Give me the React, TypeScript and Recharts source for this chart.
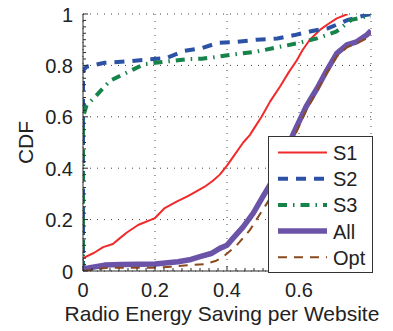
import React from 'react';
import { LineChart, Line, XAxis, YAxis, CartesianGrid, Legend, Label } from 'recharts';

// ---- data ----
const s1X = [0, 0, 0.03, 0.056, 0.083, 0.1, 0.12, 0.153, 0.2, 0.227, 0.26, 0.29, 0.315, 0.338, 0.36, 0.38, 0.4, 0.42, 0.445, 0.464, 0.473, 0.496, 0.52, 0.547, 0.57, 0.594, 0.61, 0.63, 0.658, 0.68, 0.705, 0.735];
const s1Y = [0, 0.05, 0.07, 0.093, 0.105, 0.125, 0.148, 0.179, 0.206, 0.245, 0.27, 0.29, 0.31, 0.328, 0.35, 0.375, 0.41, 0.45, 0.5, 0.53, 0.55, 0.6, 0.66, 0.717, 0.77, 0.82, 0.86, 0.9, 0.938, 0.96, 0.983, 1.0];

const s2X = [0, 0, 0.01, 0.06, 0.135, 0.186, 0.23, 0.28, 0.317, 0.33, 0.375, 0.428, 0.483, 0.54, 0.588, 0.64, 0.68, 0.736, 0.785, 0.8];
const s2Y = [0, 0.78, 0.795, 0.81, 0.817, 0.824, 0.828, 0.856, 0.864, 0.867, 0.888, 0.892, 0.9, 0.905, 0.918, 0.935, 0.944, 0.977, 0.996, 1.0];

const s3X = [0, 0, 0.01, 0.035, 0.075, 0.133, 0.17, 0.245, 0.295, 0.33, 0.355, 0.42, 0.48, 0.535, 0.595, 0.65, 0.703, 0.745, 0.785, 0.8];
const s3Y = [0, 0.6, 0.645, 0.68, 0.74, 0.78, 0.805, 0.817, 0.825, 0.826, 0.83, 0.843, 0.853, 0.869, 0.886, 0.905, 0.931, 0.977, 0.99, 0.99];

const allX = [0, 0, 0.015, 0.06, 0.106, 0.2, 0.264, 0.3, 0.325, 0.356, 0.38, 0.4, 0.417, 0.445, 0.473, 0.5, 0.53, 0.555, 0.583, 0.62, 0.65, 0.677, 0.705, 0.733, 0.76, 0.788, 0.8];
const allY = [0, 0.01, 0.012, 0.023, 0.025, 0.027, 0.036, 0.045, 0.056, 0.068, 0.088, 0.1, 0.128, 0.172, 0.225, 0.29, 0.36, 0.44, 0.53, 0.64, 0.71, 0.78, 0.847, 0.88, 0.892, 0.918, 0.935];

const optX = [0, 0.015, 0.07, 0.2, 0.245, 0.29, 0.34, 0.37, 0.39, 0.427, 0.464, 0.49, 0.514, 0.55, 0.583, 0.62, 0.65, 0.677, 0.705, 0.733, 0.76, 0.788, 0.8];
const optY = [0, 0.003, 0.013, 0.013, 0.017, 0.022, 0.027, 0.04, 0.056, 0.1, 0.16, 0.218, 0.27, 0.38, 0.51, 0.625, 0.7, 0.77, 0.835, 0.87, 0.885, 0.905, 0.925];

const seriesNames = ['S1', 'S2', 'S3', 'All', 'Opt'];
const xMajorTicks = [0, 0.2, 0.4, 0.6, 0.8];
const xTickLabels = ['0', '0.2', '0.4', '0.6', ''];
const yMajorTicks = [0, 0.2, 0.4, 0.6, 0.8, 1];
const yTickLabels = ['0', '0.2', '0.4', '0.6', '0.8', '1'];
const xLabel = 'Radio Energy Saving per Website';
const yLabel = 'CDF';

// ---- styles ----
const seriesColors = ['#f02a2a', '#2c52a6', '#15834a', '#6b54a8', '#8a4a1e'];
const seriesWidths = [2, 4, 4, 5.5, 2];
const seriesDashes = [undefined, '10 8', '9 6 1.5 6', undefined, '9 7'];
const FONT = 'Arial, "Liberation Sans", Helvetica, sans-serif';
const axisColor = '#2b2b2b';
const textColor = '#222';

const zip = (xs: number[], ys: number[]) => xs.map((x, i) => ({ x, y: ys[i] }));
const seriesData = [zip(s1X, s1Y), zip(s2X, s2Y), zip(s3X, s3Y), zip(allX, allY), zip(optX, optY)];

const xAllTicks: number[] = [];
for (let i = 0; i <= 32; i++) xAllTicks.push(Math.round(i * 0.025 * 1000) / 1000);
const yAllTicks: number[] = [];
for (let i = 0; i <= 40; i++) yAllTicks.push(Math.round(i * 0.025 * 1000) / 1000);

const findIdx = (arr: number[], v: number) => arr.findIndex((t) => Math.abs(t - v) < 1e-6);

const XTick = (props: any) => {
  const { x, y, payload } = props;
  const idx = findIdx(xMajorTicks, payload.value);
  const major = idx >= 0;
  return (
    <g>
      <line x1={x} y1={y} x2={x} y2={y - (major ? 5 : 3)} stroke={axisColor} strokeWidth={1} />
      {major && xTickLabels[idx] ? (
        <text x={x} y={y + 26} textAnchor="middle" fontFamily={FONT} fontSize={20} fill={textColor}>
          {xTickLabels[idx]}
        </text>
      ) : null}
    </g>
  );
};

const YTick = (props: any) => {
  const { x, y, payload } = props;
  const idx = findIdx(yMajorTicks, payload.value);
  const major = idx >= 0;
  return (
    <g>
      <line x1={x} y1={y} x2={x + (major ? 5 : 3)} y2={y} stroke={axisColor} strokeWidth={1} />
      {major ? (
        <text x={x - 10} y={y + 7.5} textAnchor="end" fontFamily={FONT} fontSize={20} fill={textColor}>
          {yTickLabels[idx]}
        </text>
      ) : null}
    </g>
  );
};

const XLabelContent = (props: any) => {
  const vb = props.viewBox || { x: 83, y: 271, width: 288 };
  return (
    <text x={vb.x + vb.width / 2 - 5} y={vb.y + 50} textAnchor="middle" fontFamily={FONT} fontSize={21} fill={textColor}>
      {xLabel}
    </text>
  );
};

const YLabelContent = (props: any) => {
  const vb = props.viewBox || { x: 0, y: 14, width: 83, height: 257 };
  const cx = vb.x + 33;
  const cy = vb.y + vb.height / 2;
  return (
    <text x={cx} y={cy} transform={`rotate(-90 ${cx} ${cy})`} textAnchor="middle" fontFamily={FONT} fontSize={21} fill={textColor}>
      {yLabel}
    </text>
  );
};

const LegendContent = (props: any) => {
  const payload: any[] = props.payload || [];
  const items = seriesNames.map((name, i) => {
    const p = payload.find((q) => q.value === name);
    return { name, color: p ? p.color : seriesColors[i], i };
  });
  const W = 105;
  const H = 137;
  return (
    <svg width={W} height={H} style={{ display: 'block' }}>
      <rect x={0.5} y={0.5} width={W - 1} height={H - 1} fill="#fff" stroke="#333" strokeWidth={1} />
      {items.map((it, k) => {
        const cy = 16.5 + 26.2 * k;
        return (
          <g key={it.name}>
            <line
              x1={10}
              x2={59}
              y1={cy}
              y2={cy}
              stroke={it.color}
              strokeWidth={seriesWidths[it.i]}
              strokeDasharray={seriesDashes[it.i]}
            />
            <text x={65} y={cy + 7.5} fontFamily={FONT} fontSize={20} fill={textColor}>
              {it.name}
            </text>
          </g>
        );
      })}
    </svg>
  );
};

export default function App() {
  return (
    <div style={{ position: 'absolute', left: 0, top: 0, background: '#fff' }}>
      <LineChart width={393} height={331} margin={{ top: 14, right: 22, bottom: 0, left: 0 }}>
        <CartesianGrid
          stroke="#444"
          strokeWidth={1}
          strokeDasharray="1 6"
          horizontalCoordinatesGenerator={(p: any) => {
            const { yAxis, offset } = p;
            if (yAxis && typeof yAxis.scale === 'function') return yMajorTicks.map((t) => yAxis.scale(t));
            return yMajorTicks.map((t) => offset.top + (1 - t) * offset.height);
          }}
          verticalCoordinatesGenerator={(p: any) => {
            const { xAxis, offset } = p;
            if (xAxis && typeof xAxis.scale === 'function') return xMajorTicks.map((t) => xAxis.scale(t));
            return xMajorTicks.map((t) => offset.left + (t / 0.8) * offset.width);
          }}
        />
        <XAxis
          type="number"
          dataKey="x"
          domain={[0, 0.8]}
          ticks={xAllTicks}
          interval={0}
          tickSize={0}
          tickMargin={0}
          tick={<XTick />}
          tickLine={false}
          axisLine={{ stroke: axisColor, strokeWidth: 1 }}
          height={60}
          allowDataOverflow
        >
          <Label content={<XLabelContent />} />
        </XAxis>
        <YAxis
          type="number"
          domain={[0, 1]}
          ticks={yAllTicks}
          interval={0}
          tickSize={0}
          tickMargin={0}
          tick={<YTick />}
          tickLine={false}
          axisLine={{ stroke: axisColor, strokeWidth: 1 }}
          width={83}
          allowDataOverflow
        >
          <Label content={<YLabelContent />} />
        </YAxis>
        {seriesNames.map((name, i) => (
          <Line
            key={name}
            name={name}
            data={seriesData[i]}
            dataKey="y"
            type="linear"
            stroke={seriesColors[i]}
            strokeWidth={seriesWidths[i]}
            strokeDasharray={seriesDashes[i]}
            strokeLinejoin="round"
            dot={false}
            activeDot={false}
            isAnimationActive={false}
          />
        ))}
        <Legend
          layout="vertical"
          align="center"
          verticalAlign="middle"
          content={<LegendContent />}
          wrapperStyle={{ left: 268, top: 136, width: 105, height: 137, right: 'auto', bottom: 'auto', margin: 0 }}
        />
      </LineChart>
    </div>
  );
}
